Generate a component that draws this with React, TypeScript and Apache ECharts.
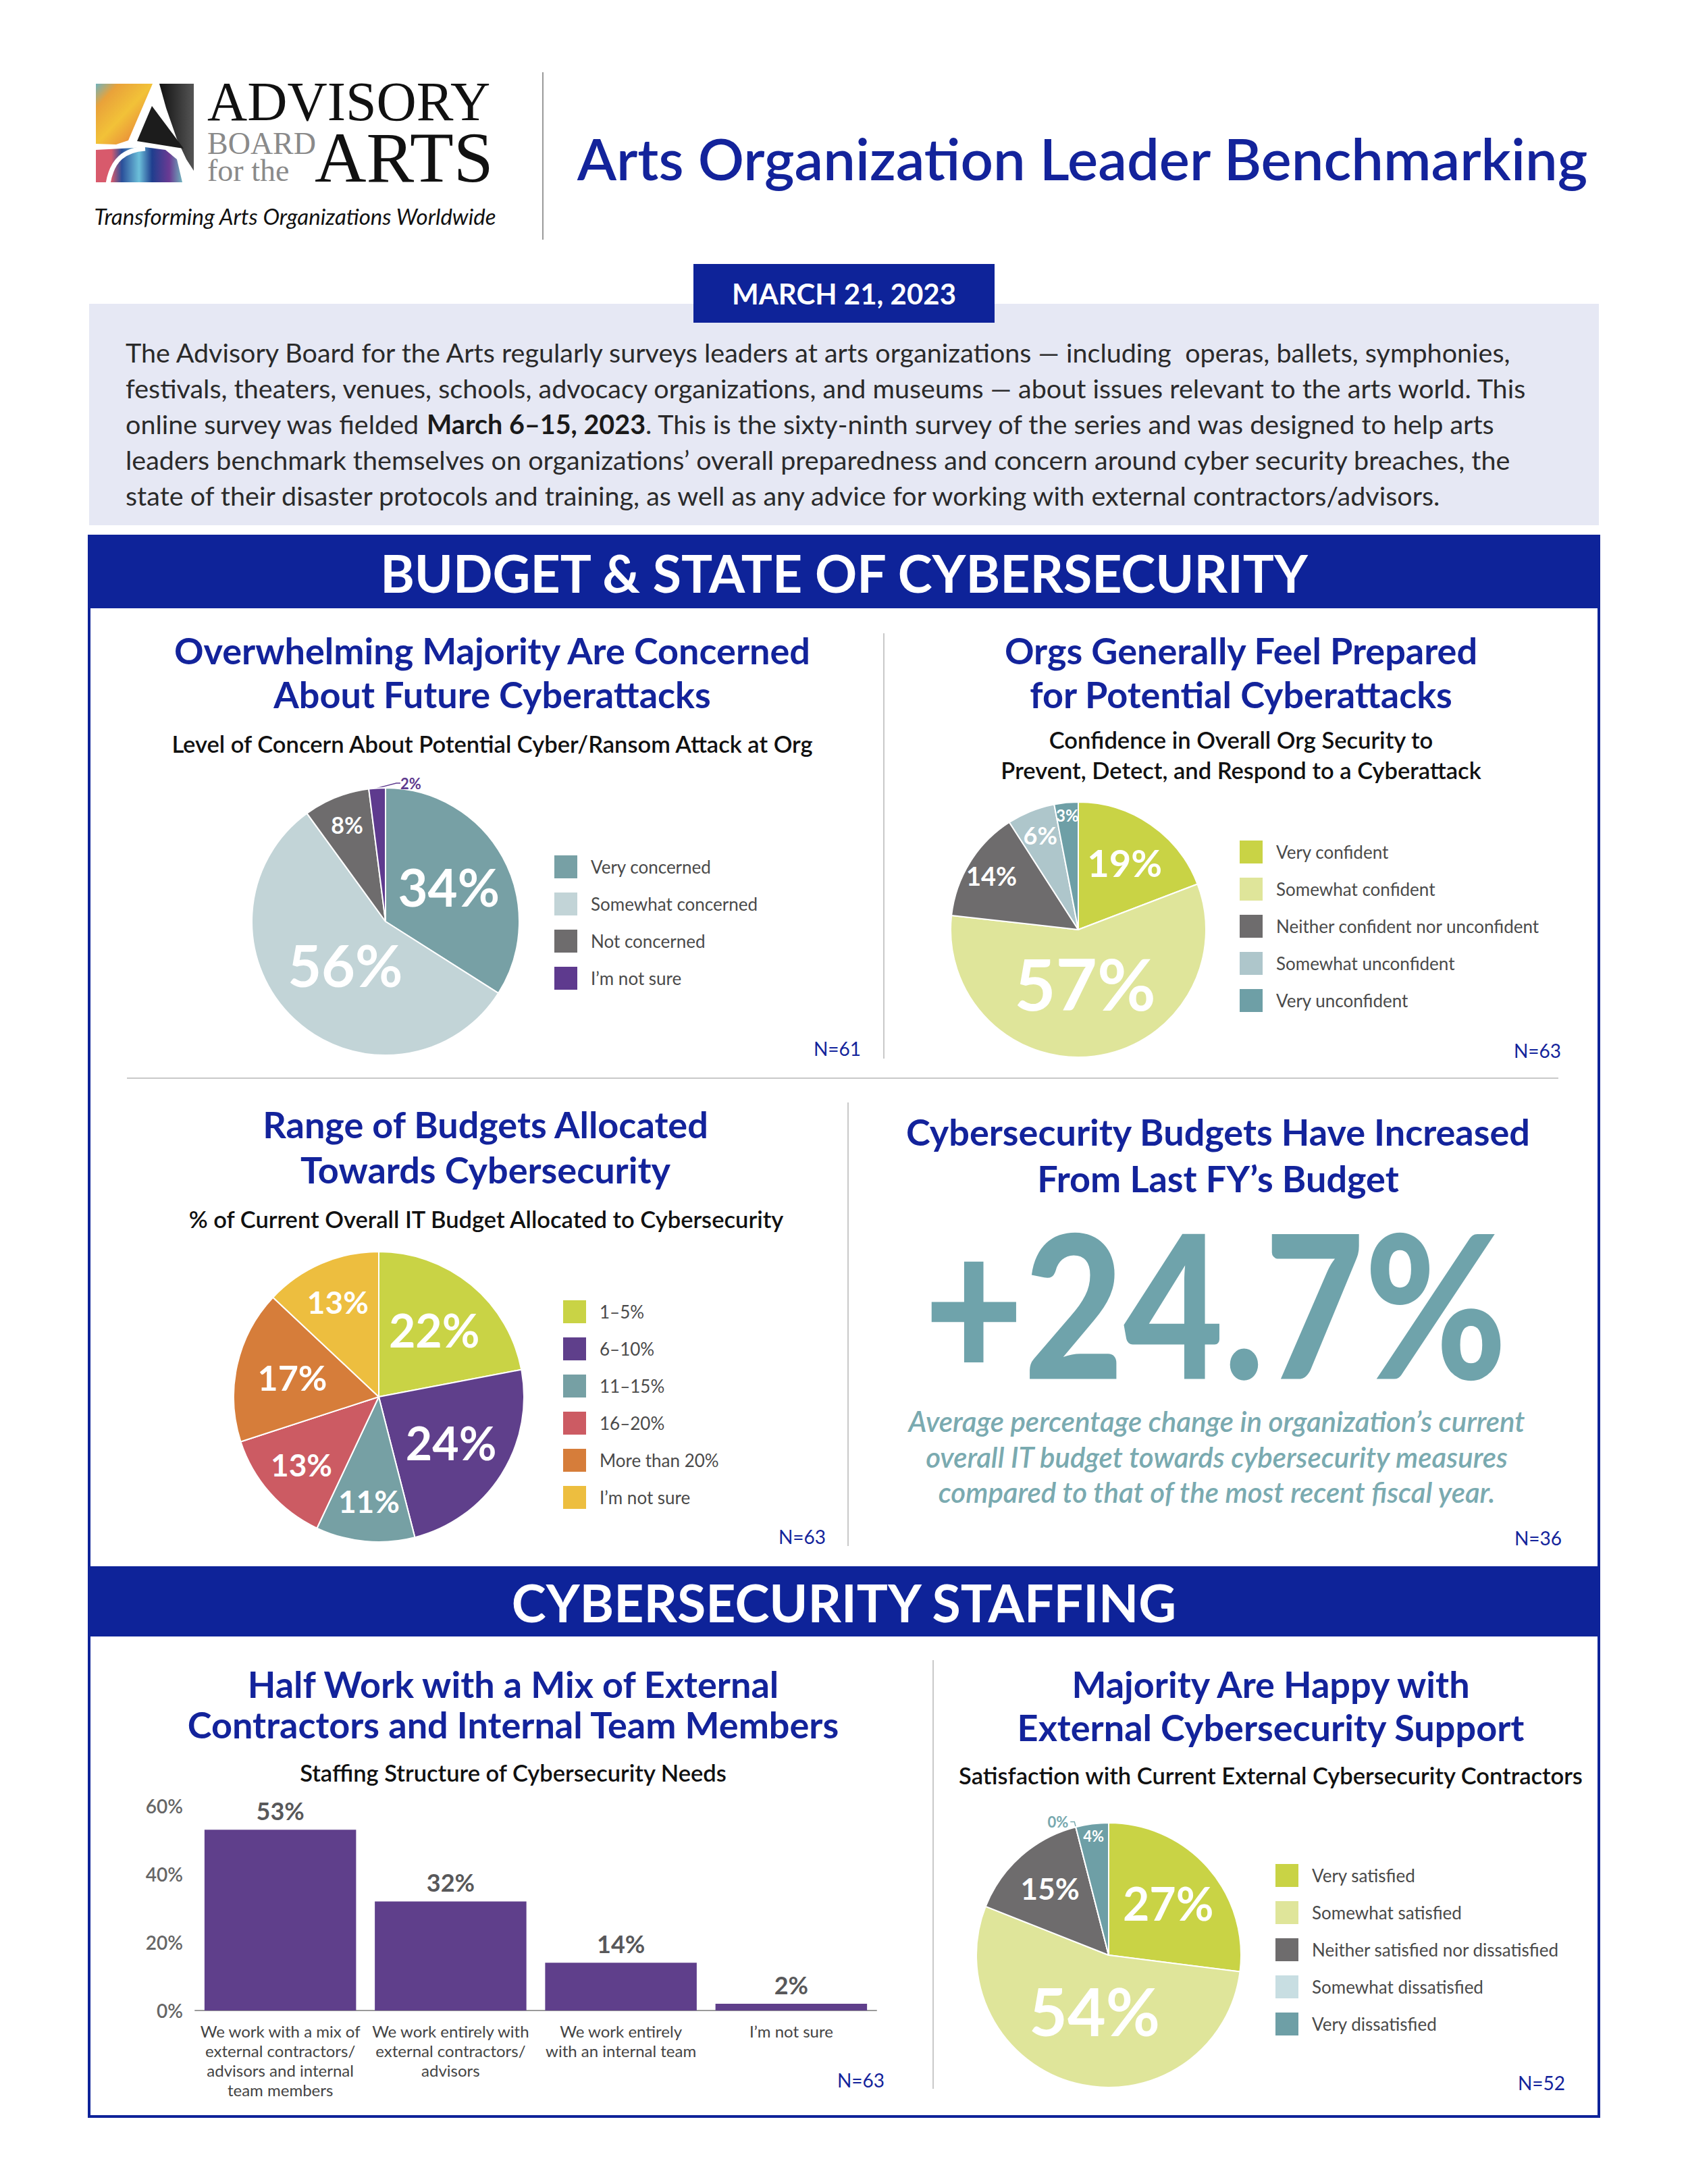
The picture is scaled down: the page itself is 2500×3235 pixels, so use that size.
import { useEffect, useRef } from 'react';
import * as echarts from 'echarts';

const FONT = 'Lato, "Noto Sans", sans-serif';
const SERIF = '"Liberation Serif", "DejaVu Serif", serif';
const BLUE = '#13239B';
const BAND = '#0E2399';

// ---------------- DATA ----------------
const concernNames = ['Very concerned', 'Somewhat concerned', 'Not concerned', 'I’m not sure'];
const concernValues = [34, 56, 8, 2];
const concernColors = ['#77A0A5', '#C2D4D7', '#6E6C6D', '#5E3A8E'];
const concernN = 61;

const confidenceNames = ['Very confident', 'Somewhat confident', 'Neither confident nor unconfident', 'Somewhat unconfident', 'Very unconfident'];
const confidenceValues = [19, 57, 14, 6, 3];
const confidenceColors = ['#C9D345', '#DFE59A', '#6E6C6D', '#AEC6CB', '#6E9FA6'];
const confidenceN = 63;

// trailing space keeps the legend name distinct from the first chart's "I’m not sure"
const budgetRangeNames = ['1–5%', '6–10%', '11–15%', '16–20%', 'More than 20%', 'I’m not sure '];
const budgetRangeValues = [22, 24, 11, 13, 17, 13];
const budgetRangeColors = ['#C9D345', '#5F3F8B', '#76A0A4', '#CC5B63', '#D67D3A', '#EDBE3F'];
const budgetRangeN = 63;

const budgetChangePct = 24.7;
const budgetChangeN = 36;

const staffingCategories = [
  'We work with a mix of\nexternal contractors/\nadvisors and internal\nteam members',
  'We work entirely with\nexternal contractors/\nadvisors',
  'We work entirely\nwith an internal team',
  'I’m not sure',
];
const staffingValues = [53, 32, 14, 2];
const staffingAxisMax = 60;
const staffingAxisStep = 20;
const staffingN = 63;

const satisfactionNames = ['Very satisfied', 'Somewhat satisfied', 'Neither satisfied nor dissatisfied', 'Somewhat dissatisfied', 'Very dissatisfied'];
const satisfactionValues = [27, 54, 15, 0, 4];
const satisfactionColors = ['#C9D345', '#DFE59A', '#6E6C6D', '#C8DEE2', '#6E9FA6'];
const satisfactionN = 52;

const introLines = [
  'The Advisory Board for the Arts regularly surveys leaders at arts organizations — including  operas, ballets, symphonies,',
  'festivals, theaters, venues, schools, advocacy organizations, and museums — about issues relevant to the arts world. This',
  'online survey was fielded {b|March 6–15, 2023}. This is the sixty-ninth survey of the series and was designed to help arts',
  'leaders benchmark themselves on organizations’ overall preparedness and concern around cyber security breaches, the',
  'state of their disaster protocols and training, as well as any advice for working with external contractors/advisors.',
];

// ---------------- LAYOUT / STYLE ----------------
const P1 = { cx: 571, cy: 1365, r: 198 };
const P2 = { cx: 1597, cy: 1377, r: 189 };
const P3 = { cx: 561, cy: 2069, r: 215 };
const P4 = { cx: 1642, cy: 2896, r: 196 };

// f: label distance from centre as a fraction of radius
// abs: label placed on the slice's mid angle via labelLayout (for slices too thin for ECharts' inside labels)
// outside: outside label with a leader line
type LabelSpec = { f?: number; size: number; color?: string; outside?: boolean; abs?: boolean };
const concernLabels: LabelSpec[] = [{ f: 0.54, size: 76 }, { f: 0.44, size: 86 }, { f: 0.78, size: 34 }, { outside: true, size: 22, color: '#5E3A8E' }];
const confidenceLabels: LabelSpec[] = [{ f: 0.64, size: 56 }, { f: 0.42, size: 106 }, { f: 0.8, size: 38 }, { f: 0.8, size: 36 }, { abs: true, f: 0.9, size: 24 }];
const budgetLabels: LabelSpec[] = [{ f: 0.6, size: 68 }, { f: 0.59, size: 68 }, { f: 0.72, size: 46 }, { f: 0.71, size: 46 }, { f: 0.61, size: 52 }, { f: 0.71, size: 46 }];
const satisfactionLabels: LabelSpec[] = [{ f: 0.6, size: 68 }, { f: 0.43, size: 98 }, { f: 0.67, size: 44 }, { outside: true, size: 22, color: '#77A8AE' }, { f: 0.91, size: 22 }];

function buildPie(p: { cx: number; cy: number; r: number }, names: string[], values: number[], colors: string[], specs: LabelSpec[], customLayout?: (params: any) => any) {
  const total = values.reduce((a, b) => a + b, 0);
  const midAngle = (i: number) => {
    let before = 0;
    for (let k = 0; k < i; k++) before += values[k];
    return ((before + values[i] / 2) / total) * Math.PI * 2;
  };
  const layoutFn = (params: any) => {
    const s = specs[params.dataIndex];
    if (s && s.abs && s.f != null) {
      const a = midAngle(params.dataIndex);
      return { x: p.cx + s.f * p.r * Math.sin(a), y: p.cy - s.f * p.r * Math.cos(a), align: 'center', verticalAlign: 'middle' };
    }
    if (customLayout) return customLayout(params) || {};
    return {};
  };
  const out: any[] = [];
  out.push({
    type: 'pie',
    center: [p.cx, p.cy],
    radius: [0, p.r],
    startAngle: 90,
    clockwise: true,
    silent: true,
    avoidLabelOverlap: false,
    emphasis: { disabled: true },
    itemStyle: { borderColor: '#fff', borderWidth: 2 },
    label: { show: false },
    labelLine: { show: false },
    labelLayout: layoutFn,
    data: names.map((name, i) => {
      const s = specs[i];
      const onMain = s.outside || s.abs;
      return {
        name,
        value: values[i],
        itemStyle: { color: colors[i] },
        label: onMain
          ? { show: true, position: 'outside', formatter: '{c}%', fontSize: s.size, fontWeight: 'bold', color: s.color || '#fff', fontFamily: FONT, distanceToLabelLine: 3 }
          : { show: false },
        labelLine: s.outside
          ? { show: true, length: 8, length2: 6, lineStyle: { color: s.color, width: 1.5 } }
          : { show: false },
      };
    }),
  });
  specs.forEach((s, i) => {
    if (s.outside || s.abs || s.f == null) return;
    const rr = s.f * p.r - 3;
    out.push({
      type: 'pie',
      center: [p.cx, p.cy],
      radius: [rr, rr],
      startAngle: 90,
      clockwise: true,
      silent: true,
      avoidLabelOverlap: false,
      emphasis: { disabled: true },
      itemStyle: { color: 'rgba(0,0,0,0)', borderWidth: 0 },
      labelLine: { show: false },
      data: values.map((v, j) => ({
        value: v,
        label: j === i
          ? { show: true, position: 'inside', formatter: '{c}%', fontSize: s.size, fontWeight: 'bold', color: s.color || '#fff', fontFamily: FONT }
          : { show: false },
      })),
    });
  });
  return out;
}

function legendCfg(left: number, top: number, names: string[]) {
  return {
    orient: 'vertical',
    left,
    top,
    padding: 0,
    itemWidth: 36,
    itemHeight: 36,
    itemGap: 17,
    icon: 'rect',
    selectedMode: false,
    data: names,
    textStyle: { fontSize: 26, color: '#4a4a4a', fontFamily: FONT, padding: [0, 0, 0, 14] },
  };
}

function T(text: string, x: number, y: number, size: number, o: any = {}) {
  return {
    type: 'text',
    x,
    y,
    z: 20,
    scaleY: o.scaleY || 1,
    silent: true,
    style: {
      text,
      fontSize: size,
      fontFamily: o.family || FONT,
      fontWeight: o.weight || 'normal',
      fontStyle: o.italic ? 'italic' : 'normal',
      fill: o.fill || '#1a1a1a',
      align: o.align || 'center',
      verticalAlign: 'middle',
      lineHeight: o.lineHeight,
      rich: o.rich,
    },
  };
}

function L(x1: number, y1: number, x2: number, y2: number, stroke = '#c9c9c9', w = 2) {
  return { type: 'line', z: 5, silent: true, shape: { x1, y1, x2, y2 }, style: { stroke, lineWidth: w } };
}

function buildOption() {
  const g: any[] = [];
  // ---- logo ----
  g.push({
    type: 'polygon', z: 5, silent: true,
    shape: { points: [[142, 124], [226, 124], [190, 208], [172, 214], [142, 213]] },
    style: {
      fill: new echarts.graphic.LinearGradient(0, 0, 1, 1, [
        { offset: 0, color: '#6FB3BE' },
        { offset: 0.2, color: '#E9A23A' },
        { offset: 0.5, color: '#F2C238' },
        { offset: 0.8, color: '#E98D3A' },
        { offset: 1, color: '#E8B84A' },
      ]),
    },
  });
  g.push({
    type: 'polygon', z: 5, silent: true,
    shape: { points: [[236, 124], [287, 124], [287, 253], [276, 236], [262, 206], [246, 160]] },
    style: {
      fill: new echarts.graphic.LinearGradient(0, 0, 1, 0, [
        { offset: 0, color: '#111' },
        { offset: 1, color: '#555' },
      ]),
    },
  });
  g.push({
    type: 'polygon', z: 5, silent: true,
    shape: { points: [[225, 157], [203, 209], [272, 220]] },
    style: { fill: '#1c1c1c' },
  });
  g.push({
    type: 'polygon', z: 5, silent: true,
    shape: { points: [[142, 222], [180, 220], [215, 218], [245, 222], [262, 236], [270, 270], [142, 270]] },
    style: {
      fill: new echarts.graphic.LinearGradient(0, 0, 1, 0, [
        { offset: 0, color: '#D85A6C' },
        { offset: 0.18, color: '#D85A6C' },
        { offset: 0.3, color: '#2A4F9A' },
        { offset: 0.5, color: '#6CC0DA' },
        { offset: 0.65, color: '#1F3E8E' },
        { offset: 0.85, color: '#6B3A93' },
        { offset: 1, color: '#6FB3BE' },
      ]),
    },
  });
  g.push({
    type: 'bezierCurve', z: 6, silent: true,
    shape: { x1: 160, y1: 272, cpx1: 166, cpy1: 236, cpx2: 185, cpy2: 222, x2: 215, y2: 220 },
    style: { stroke: '#fff', lineWidth: 7, fill: 'none' },
  });
  g.push(T('ADVISORY', 307, 150, 82, { family: SERIF, align: 'left', fill: '#111', lineHeight: 70 }));
  g.push(T('BOARD\nfor the', 307, 232, 46, { family: SERIF, align: 'left', fill: '#8a8a8a', lineHeight: 40 }));
  g.push(T('ARTS', 466, 233, 106, { family: SERIF, align: 'left', fill: '#111', lineHeight: 80 }));
  g.push(T('Transforming Arts Organizations Worldwide', 437, 320, 33, { italic: true, fill: '#111' }));
  g.push(L(804, 107, 804, 355, '#9a9a9a', 2));
  g.push(T('Arts Organization Leader Benchmarking', 1603, 234, 85, { fill: BLUE, weight: 600 }));

  // ---- intro ----
  g.push({ type: 'rect', z: 1, silent: true, shape: { x: 132, y: 450, width: 2236, height: 328 }, style: { fill: '#E6E8F4' } });
  g.push({ type: 'rect', z: 6, silent: true, shape: { x: 1027, y: 391, width: 446, height: 87 }, style: { fill: BAND } });
  g.push(T('MARCH 21, 2023', 1250, 435, 42, { fill: '#fff', weight: 'bold' }));
  introLines.forEach((line, i) => {
    g.push(T(line, 186, 521 + 53 * i, 39.5, {
      align: 'left', fill: '#2a2a2a',
      rich: { b: { fontWeight: 'bold', fontSize: 39.5, fontFamily: FONT, fill: '#1a1a1a' } },
    }));
  });

  // ---- frame and bands ----
  g.push({ type: 'rect', z: 2, silent: true, shape: { x: 132, y: 794, width: 2236, height: 2341 }, style: { fill: 'none', stroke: BAND, lineWidth: 4 } });
  g.push({ type: 'rect', z: 3, silent: true, shape: { x: 132, y: 794, width: 2236, height: 107 }, style: { fill: BAND } });
  g.push(T('BUDGET & STATE OF CYBERSECURITY', 1250, 848, 77, { fill: '#fff', weight: 'bold' }));
  g.push({ type: 'rect', z: 3, silent: true, shape: { x: 132, y: 2320, width: 2236, height: 104 }, style: { fill: BAND } });
  g.push(T('CYBERSECURITY STAFFING', 1250, 2373, 77, { fill: '#fff', weight: 'bold' }));

  // ---- dividers ----
  g.push(L(1309, 938, 1309, 1568));
  g.push(L(188, 1597, 2308, 1597));
  g.push(L(1256, 1633, 1256, 2290));
  g.push(L(1382, 2459, 1382, 3094));

  // ---- panel titles ----
  const title = (lines: string[], x: number, ys: number[]) => lines.forEach((t, i) => g.push(T(t, x, ys[i], 54, { fill: BLUE, weight: 'bold' })));
  const sub = (lines: string[], x: number, ys: number[]) => lines.forEach((t, i) => g.push(T(t, x, ys[i], 34.5, { fill: '#111', weight: 600 })));
  const nLabel = (n: number, x: number, y: number) => g.push(T(`N=${n}`, x, y, 28, { fill: BLUE, align: 'right' }));

  title(['Overwhelming Majority Are Concerned', 'About Future Cyberattacks'], 729, [963, 1028]);
  sub(['Level of Concern About Potential Cyber/Ransom Attack at Org'], 729, [1101]);
  nLabel(concernN, 1275, 1553);

  title(['Orgs Generally Feel Prepared', 'for Potential Cyberattacks'], 1838, [963, 1028]);
  sub(['Confidence in Overall Org Security to', 'Prevent, Detect, and Respond to a Cyberattack'], 1838, [1095, 1140]);
  nLabel(confidenceN, 2312, 1556);

  title(['Range of Budgets Allocated', 'Towards Cybersecurity'], 719, [1665, 1732]);
  sub(['% of Current Overall IT Budget Allocated to Cybersecurity'], 720, [1805]);
  nLabel(budgetRangeN, 1223, 2276);

  title(['Cybersecurity Budgets Have Increased', 'From Last FY’s Budget'], 1804, [1676, 1745]);
  g.push(T(`+${budgetChangePct}%`, 1800, 1928, 255, { fill: '#6FA3AB', weight: 900, lineHeight: 200, scaleY: 1.16 }));
  ['Average percentage change in organization’s current', 'overall IT budget towards cybersecurity measures', 'compared to that of the most recent fiscal year.'].forEach((t, i) =>
    g.push(T(t, 1802, 2105 + 52.5 * i, 42, { fill: '#7AAAB0', italic: true, weight: 600 })));
  nLabel(budgetChangeN, 2313, 2278);

  title(['Half Work with a Mix of External', 'Contractors and Internal Team Members'], 760, [2494, 2554]);
  sub(['Staffing Structure of Cybersecurity Needs'], 760, [2625]);
  nLabel(staffingN, 1310, 3081);

  title(['Majority Are Happy with', 'External Cybersecurity Support'], 1882, [2494, 2558]);
  sub(['Satisfaction with Current External Cybersecurity Contractors'], 1882, [2629]);
  nLabel(satisfactionN, 2318, 3085);

  const series: any[] = [
    ...buildPie(P1, concernNames, concernValues, concernColors, concernLabels, (params: any) =>
      params.dataIndex === 3 ? { x: P1.cx + 22, y: P1.cy - P1.r - 7, align: 'left', verticalAlign: 'middle' } : {}),
    ...buildPie(P2, confidenceNames, confidenceValues, confidenceColors, confidenceLabels),
    ...buildPie(P3, budgetRangeNames, budgetRangeValues, budgetRangeColors, budgetLabels),
    ...buildPie(P4, satisfactionNames, satisfactionValues, satisfactionColors, satisfactionLabels),
    {
      type: 'bar',
      xAxisIndex: 0,
      yAxisIndex: 0,
      data: staffingValues,
      barCategoryGap: '11%',
      silent: true,
      itemStyle: { color: '#5F3F8B' },
      label: { show: true, position: 'top', distance: 10, formatter: '{c}%', fontSize: 36, fontWeight: 'bold', color: '#58585A', fontFamily: FONT },
    },
  ];

  return {
    animation: false,
    backgroundColor: '#fff',
    textStyle: { fontFamily: FONT },
    grid: [{ left: 289, top: 2675, width: 1009, height: 303 }],
    xAxis: [{
      type: 'category',
      gridIndex: 0,
      data: staffingCategories,
      axisLine: { lineStyle: { color: '#9a9a9a', width: 2 } },
      axisTick: { show: false },
      axisLabel: { interval: 0, fontSize: 24, lineHeight: 29, color: '#444', margin: 16, fontFamily: FONT },
    }],
    yAxis: [{
      type: 'value',
      gridIndex: 0,
      min: 0,
      max: staffingAxisMax,
      interval: staffingAxisStep,
      axisLine: { show: false },
      axisTick: { show: false },
      splitLine: { show: false },
      axisLabel: { formatter: '{value}%', fontSize: 28, color: '#666', fontWeight: 600, margin: 18, fontFamily: FONT },
    }],
    legend: [
      legendCfg(819, 1265, concernNames),
      legendCfg(1834, 1243, confidenceNames),
      legendCfg(832, 1924, budgetRangeNames),
      legendCfg(1887, 2759, satisfactionNames),
    ],
    graphic: { elements: g },
    series,
  };
}

export default function App() {
  const ref = useRef<HTMLDivElement>(null);
  useEffect(() => {
    const chart = echarts.init(ref.current!, null, { renderer: 'svg' });
    chart.setOption(buildOption() as any);
    return () => chart.dispose();
  }, []);
  return <div ref={ref} style={{ position: 'absolute', left: 0, top: 0, width: 2500, height: 3235, background: '#fff' }} />;
}
